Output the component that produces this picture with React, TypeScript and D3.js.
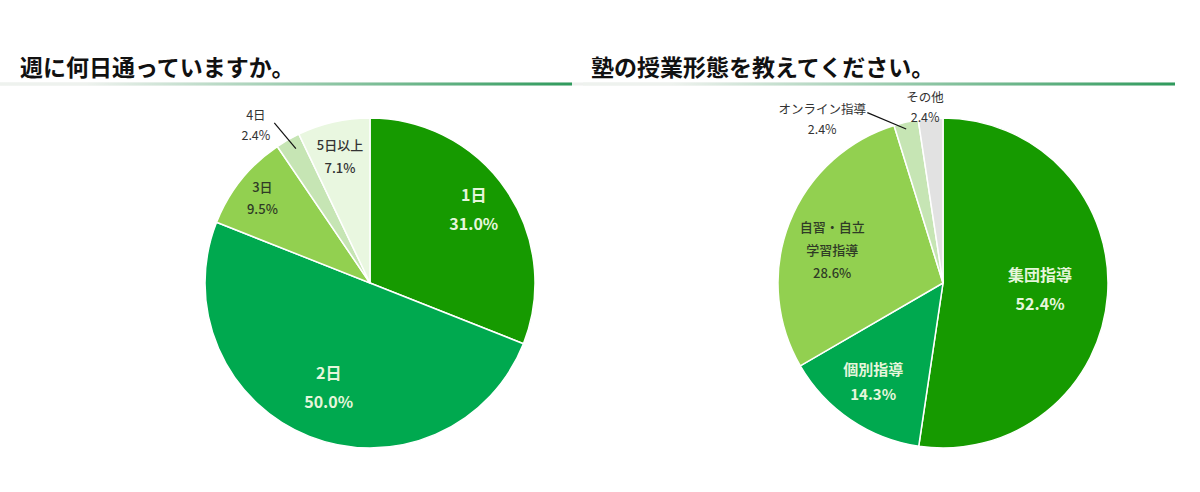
import * as d3 from "d3";

// --- data ---
const daysCategories = ["1日", "2日", "3日", "4日", "5日以上"];
const daysValues = [31.0, 50.0, 9.5, 2.4, 7.1];
const styleCategories = ["集団指導", "個別指導", "自習・自立\n学習指導", "オンライン指導", "その他"];
const styleValues = [52.4, 14.3, 28.6, 2.4, 2.4];

const daysColors = ["#169a00", "#00a94f", "#92d050", "#c6e5b4", "#e9f7e0"];
const styleColors = ["#169a00", "#00a94f", "#92d050", "#c6e5b4", "#e2e2e2"];

type LabelStyle = {
  size: number;
  lh: number;
  fill: string;
  weight: number;
  rf: number; // radius factor
  da: number; // angle shift (deg)
  leader?: [number, number, number, number]; // [r1 factor, a1 shift, r2 factor, a2 shift]
};

const daysLabels: LabelStyle[] = [
  { size: 16, lh: 29, fill: "#e6f6dc", weight: 700, rf: 0.77, da: -1 },
  { size: 16, lh: 29, fill: "#e6f6dc", weight: 700, rf: 0.68, da: 0 },
  { size: 13, lh: 22, fill: "#2f3b26", weight: 500, rf: 0.83, da: -0.5 },
  { size: 12.5, lh: 20, fill: "#333333", weight: 400, rf: 1.18, da: -6, leader: [1.13, -1, 0.93, 1] },
  { size: 13, lh: 23, fill: "#333333", weight: 500, rf: 0.785, da: -0.6 },
];

const styleLabels: LabelStyle[] = [
  { size: 16, lh: 29, fill: "#e6f6dc", weight: 700, rf: 0.59, da: 0 },
  { size: 15, lh: 25, fill: "#e6f6dc", weight: 700, rf: 0.735, da: 1 },
  { size: 13, lh: 23, fill: "#2f3b26", weight: 500, rf: 0.7, da: -5 },
  { size: 12.5, lh: 20, fill: "#333333", weight: 400, rf: 1.23, da: -23.6, leader: [1.13, -11, 0.96, -0.5] },
  { size: 12.5, lh: 20, fill: "#333333", weight: 400, rf: 1.07, da: -1.5 },
];

const W = 1200;
const H = 492;
const R = 165;
const FONT = "'Noto Sans CJK JP', 'Noto Sans', sans-serif";

function Pie({
  cx,
  cy,
  cats,
  vals,
  colors,
  labels,
}: {
  cx: number;
  cy: number;
  cats: string[];
  vals: number[];
  colors: string[];
  labels: LabelStyle[];
}) {
  const pie = d3.pie<number>().sort(null).value((d) => d);
  const arcs = pie(vals);
  const arc = d3.arc<d3.PieArcDatum<number>>().innerRadius(0).outerRadius(R);
  const polar = (a: number, r: number): [number, number] => [Math.sin(a) * r, -Math.cos(a) * r];
  const rad = Math.PI / 180;

  return (
    <g transform={`translate(${cx},${cy})`}>
      {arcs.map((a, i) => (
        <path key={i} d={arc(a) ?? ""} fill={colors[i]} stroke="#ffffff" strokeWidth={1.5} />
      ))}
      {arcs.map((a, i) => {
        const ls = labels[i];
        const mid = (a.startAngle + a.endAngle) / 2;
        const [x, y] = polar(mid + ls.da * rad, R * ls.rf);
        const lines = [...cats[i].split("\n"), `${vals[i].toFixed(1)}%`];
        const y0 = y - ((lines.length - 1) * ls.lh) / 2;
        let leader = null;
        if (ls.leader) {
          const [r1, a1, r2, a2] = ls.leader;
          const p1 = polar(mid + a1 * rad, R * r1);
          const p2 = polar(mid + a2 * rad, R * r2);
          leader = <line x1={p1[0]} y1={p1[1]} x2={p2[0]} y2={p2[1]} stroke="#111" strokeWidth={1.2} />;
        }
        return (
          <g key={`l${i}`}>
            {leader}
            {lines.map((t, j) => (
              <text
                key={j}
                x={x}
                y={y0 + j * ls.lh}
                dy="0.36em"
                textAnchor="middle"
                fontSize={ls.size}
                fontWeight={ls.weight}
                fill={ls.fill}
                fontFamily={FONT}
              >
                {t}
              </text>
            ))}
          </g>
        );
      })}
    </g>
  );
}

export default function App() {
  return (
    <div style={{ position: "absolute", left: 0, top: 0 }}>
      <svg width={W} height={H} style={{ display: "block", background: "#fff" }}>
        <defs>
          <linearGradient id="ulL" x1="0" x2="572" y1="0" y2="0" gradientUnits="userSpaceOnUse">
            <stop offset="0.15" stopColor="#eef2ee" />
            <stop offset="1" stopColor="#2f9a5c" />
          </linearGradient>
          <linearGradient id="ulR" x1="583" x2="1175" y1="0" y2="0" gradientUnits="userSpaceOnUse">
            <stop offset="0.15" stopColor="#eef2ee" />
            <stop offset="1" stopColor="#2f9a5c" />
          </linearGradient>
        </defs>
        <rect x={0} y={82.5} width={1175} height={3} fill="#eef0ee" />
        <rect x={0} y={82.5} width={572} height={3} fill="url(#ulL)" />
        <rect x={583} y={82.5} width={592} height={3} fill="url(#ulR)" />
        <text x={20} y={76} fontSize={23} fontWeight={700} fill="#111" fontFamily={FONT}>
          週に何日通っていますか。
        </text>
        <text x={591} y={76} fontSize={23} fontWeight={700} fill="#111" fontFamily={FONT}>
          塾の授業形態を教えてください。
        </text>
        <Pie cx={370} cy={283} cats={daysCategories} vals={daysValues} colors={daysColors} labels={daysLabels} />
        <Pie cx={943} cy={283} cats={styleCategories} vals={styleValues} colors={styleColors} labels={styleLabels} />
      </svg>
    </div>
  );
}
